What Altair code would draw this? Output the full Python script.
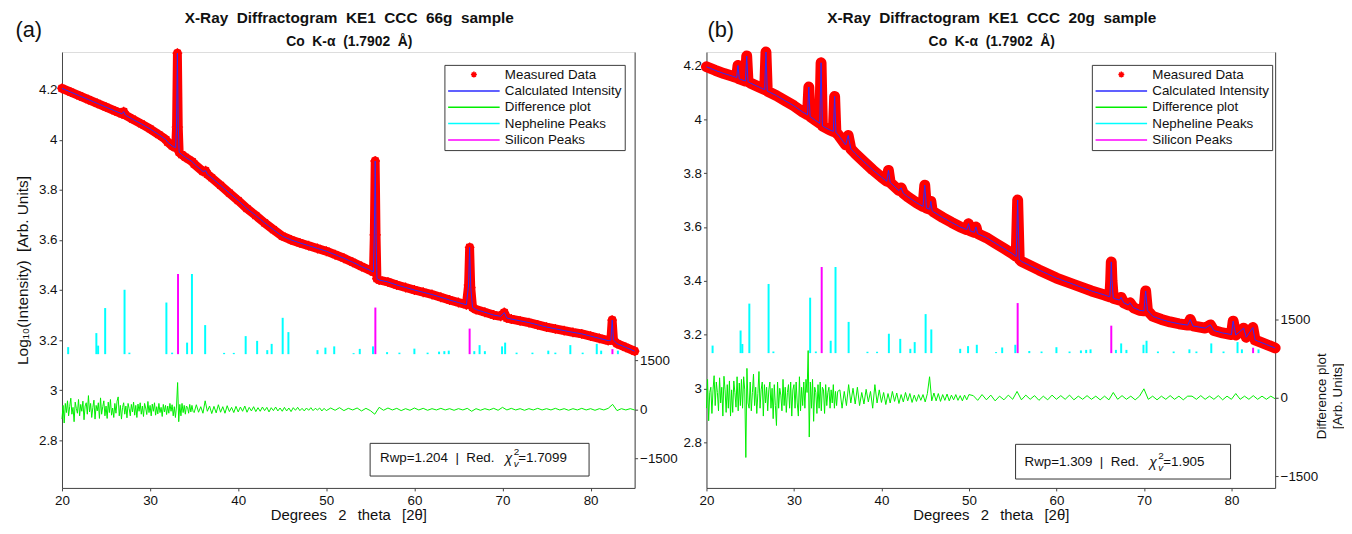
import altair as alt
import numpy as np
import pandas as pd

FONT = "Liberation Sans"
SERIES = ["Measured Data", "Calculated Intensity", "Difference plot", "Nepheline Peaks", "Silicon Peaks"]
COLORS = ["#ff0000", "#2b2bff", "#00ee00", "#00ffff", "#ff00ff"]
ASTERISK = "M-0.6,0H0.6M0,-0.62V0.62M-0.42,-0.42L0.42,0.42M-0.42,0.42L0.42,-0.42"
LEG_LINE = "M-5.2,0H5.2"
SHAPES = [ASTERISK, LEG_LINE, LEG_LINE, LEG_LINE, LEG_LINE]

# ---------------- panel (a): 66g sample, log10 intensity ----------------
A_X = [20.0, 21.0, 22.0, 23.0, 24.0, 25.0, 26.0, 26.8, 27.0, 27.2, 28.0, 29.0, 30.0, 31.0, 31.8, 32.0,
       32.5, 32.9, 33.0, 33.1, 33.2, 33.3, 33.6, 34.0, 34.8, 35.0, 36.0, 36.3, 36.5, 37.0, 38.0, 39.0,
       40.0, 41.0, 42.0, 43.0, 44.0, 45.0, 46.0, 47.0, 48.0, 49.0, 50.0, 51.0, 52.0, 53.0, 54.0, 55.0,
       55.35, 55.45, 55.55, 55.65, 55.75, 56.0, 57.0, 58.0, 59.0, 60.0, 61.0, 62.0, 63.0, 64.0, 65.0,
       65.9, 66.15, 66.27, 66.4, 66.6, 67.0, 68.0, 69.0, 69.8, 70.2, 70.5, 71.0, 72.0, 73.0, 74.0, 75.0,
       76.0, 77.0, 78.0, 79.0, 80.0, 81.0, 82.0, 82.3, 82.45, 82.6, 83.0, 84.0, 85.0]
A_Y = [4.205, 4.19, 4.175, 4.16, 4.145, 4.13, 4.115, 4.103, 4.112, 4.098, 4.082, 4.063, 4.043, 4.02, 4.0, 3.99,
       3.975, 3.968, 4.05, 4.345, 4.05, 3.95, 3.94, 3.93, 3.912, 3.903, 3.873, 3.876, 3.862, 3.848, 3.818, 3.787,
       3.757, 3.725, 3.697, 3.668, 3.641, 3.615, 3.6, 3.588, 3.577, 3.566, 3.555, 3.541, 3.527, 3.511, 3.494, 3.478,
       3.472, 3.62, 3.915, 3.62, 3.445, 3.44, 3.432, 3.42, 3.41, 3.4, 3.391, 3.382, 3.371, 3.36, 3.35,
       3.341, 3.42, 3.57, 3.41, 3.33, 3.322, 3.311, 3.3, 3.295, 3.31, 3.288, 3.284, 3.277, 3.27, 3.261, 3.252,
       3.245, 3.238, 3.231, 3.225, 3.216, 3.207, 3.198, 3.2, 3.28, 3.2, 3.186, 3.171, 3.156]

# ---------------- panel (b): 20g sample, log10 intensity ----------------
B_X = [20.0, 21.0, 22.0, 23.0, 23.45, 23.6, 23.75, 24.45, 24.6, 24.75, 25.0, 26.0, 26.65, 26.8, 26.95, 28.0,
       29.0, 30.0, 31.0, 31.55, 31.7, 31.85, 32.5, 32.95, 33.1, 33.25, 34.0, 34.5, 34.65, 34.8, 35.0, 35.9,
       36.2, 36.5, 37.0, 38.0, 39.0, 40.0, 40.6, 40.8, 41.0, 42.0, 42.25, 42.5, 43.0, 44.0, 44.75, 44.95,
       45.15, 45.5, 45.65, 45.8, 46.0, 47.0, 48.0, 49.0, 49.75, 49.95, 50.15, 50.6, 50.8, 51.0, 52.0, 53.0,
       54.0, 55.0, 55.4, 55.57, 55.75, 56.0, 57.0, 58.0, 59.0, 60.0, 62.0, 64.0, 65.5, 66.1, 66.2, 66.27,
       66.35, 66.5, 67.2, 67.4, 67.7, 68.2, 68.4, 68.8, 69.5, 70.0, 70.2, 70.4, 71.0, 72.0, 73.0, 74.0,
       75.0, 75.3, 75.6, 77.0, 77.6, 78.0, 79.0, 80.0, 80.2, 80.5, 81.4, 81.7, 82.45, 82.7, 83.0, 84.0, 85.0]
B_Y = [4.195, 4.182, 4.17, 4.16, 4.155, 4.2, 4.15, 4.142, 4.235, 4.14, 4.135, 4.12, 4.11, 4.25, 4.105, 4.088,
       4.069, 4.05, 4.027, 4.017, 4.12, 4.01, 3.995, 3.985, 4.21, 3.975, 3.962, 3.955, 4.085, 3.95, 3.945, 3.905,
       3.94, 3.89, 3.873, 3.842, 3.812, 3.785, 3.77, 3.81, 3.765, 3.735, 3.745, 3.725, 3.712, 3.69, 3.676, 3.755,
       3.67, 3.666, 3.695, 3.66, 3.655, 3.635, 3.617, 3.6, 3.59, 3.612, 3.585, 3.58, 3.6, 3.575, 3.56, 3.54,
       3.52, 3.5, 3.49, 3.7, 3.48, 3.472, 3.456, 3.44, 3.425, 3.41, 3.386, 3.362, 3.347, 3.34, 3.4, 3.47,
       3.4, 3.335, 3.328, 3.338, 3.318, 3.31, 3.318, 3.3, 3.29, 3.288, 3.362, 3.29, 3.268, 3.256, 3.247, 3.24,
       3.235, 3.256, 3.232, 3.224, 3.236, 3.215, 3.206, 3.2, 3.25, 3.198, 3.224, 3.19, 3.226, 3.18, 3.176, 3.163, 3.15]

# ---------------- reference peak sticks (height above stick base, log units) ----------------
NEPH_X = [20.7, 23.9, 24.1, 24.9, 27.1, 27.65, 31.85, 32.5, 34.2, 34.75, 36.25, 38.4, 39.5, 40.85, 42.15, 43.3,
          43.8, 45.05, 45.7, 49.0, 49.9, 50.9, 53.1, 53.8, 55.3, 56.9, 58.3, 60.0, 61.5, 62.8, 63.4, 63.9,
          66.8, 67.4, 68.0, 69.95, 70.3, 71.6, 73.4, 75.2, 76.0, 77.7, 79.1, 80.7, 81.2, 83.1]
NEPH_H = [0.028, 0.084, 0.034, 0.184, 0.257, 0.006, 0.206, 0.006, 0.046, 0.32, 0.116, 0.005, 0.005, 0.072, 0.053, 0.016,
          0.041, 0.145, 0.088, 0.016, 0.026, 0.031, 0.004, 0.021, 0.031, 0.008, 0.006, 0.022, 0.006, 0.01, 0.012, 0.014,
          0.012, 0.036, 0.012, 0.031, 0.046, 0.006, 0.006, 0.014, 0.006, 0.036, 0.006, 0.041, 0.014, 0.014]
SI_X = [33.17, 55.57, 66.27, 82.48]
SI_H = [0.32, 0.186, 0.102, 0.02]
A_STICK_BASE = 3.144
B_STICK_BASE = 3.131

# ---------------- difference plots (Arb. units) ----------------
# scan segments: 20-35 every 0.125, 35.25-50 every 0.25, 50.5-85 every 0.5
SCAN = [(20.0, 35.0, 0.125), (35.25, 50.0, 0.25), (50.5, 85.0, 0.5)]
DIFF_A = [
    -300, 120, -420, 180, -100, 260, -200, 90,
    340, -150, 60, -380, 220, 30, -120, 300,
    -200, 150, -60, 250, -320, 100, 200, -150,
    420, -80, 180, -250, 60, 280, -300, 120,
    -50, 200, -280, 350, -150, 80, 260, -200,
    100, -280, 220, -100, 300, -180, 40, -250,
    180, -120, 250, 380, -200, 120, -300, 60,
    200, -150, 100, -260, 180, 20, -200, 150,
    -80, 220, -180, 120, -250, 160, -60, 200,
    -150, 100, -220, 180, 40, -160, 240, -100,
    120, -200, 160, -60, 200, -180, 80, -140,
    180, -100, 60, -220, 150, -80, 120, -160,
    100, -120, 180, -60, 140, -200, 80, -250,
    100, 820, -380, 150, -200, 180, -100, 120,
    -150, 100, 60, -120, 150, -80, 120, -60,
    -100,
    140, -90, 80, -120, 260, -60, 100, -130, 90, -110, 140, -90, 80, -120, 110, -70,
    60, -100, 90, -80, 70, -60, 100, -90, 60, -50, 80, -70, 50, -60, 70, -40,
    60, -80, 50, -40, 70, -50, 40, -60, 60, -50, 40, -70, 50, -30, 60, -40,
    30, -50, 40, -30, 50, -40, 30, -20, 40, -50, 30, -40,
    40, -30, 50, -40, 30, -20, 40, -50, 30, -40,
    -150, 60, -30, 40, -20, 30, -40, 20, -30, 40,
    -20, 30, -30, 20, -20, 30, -20, 20, -30, 20,
    -20, 30, -60, 20, -30, 20, -20, 30, -30, 60,
    -20, 30, -20, 20, -30, 20, -20, 30, -20, 20,
    -20, 30, -20, 20, -30, 20, -20, 30, -20, 20,
    -30, 20, -20, 30, 150, -40, 20, -20, 20, -20]
DIFF_B = [
    -200, 350, -440, 100, 200, -300, 150, 420,
    -150, 300, 100, -250, 380, -100, 200, -350,
    410, 150, -280, 250, -200, 320, -350, 150,
    -280, 320, 100, -180, 400, -250, 280, -150,
    350, -200, 400, 150, -1140, 560, -100, -200,
    300, -250, 100, 450, -150, 200, -300, 80,
    500, -200, 150, 300, -350, 250, -100, 200,
    -250, 150, 300, -200, 180, -400, 250, -150,
    -530, 300, -200, 180, 50, -250, 350, -150,
    200, -280, 100, 250, -200, 300, -350, 150,
    250, -200, 300, -100, -350, 400, -250, 200,
    -150, 300, -200, 350, 100, 900, -750, 300,
    -200, 350, -450, 200, 100, -300, 250, -200,
    300, -250, 200, 150, -300, 250, -150, 100,
    200, -200, 150, -100, 250, -200, 120, -150,
    120,
    150, -200, 120, -150, 250, -100, 180, -120, 200, -150, 100, -120, 160, -80, 120, -200,
    250, -100, 150, -90, 100, -130, 80, -100, 120, -70, 90, -110, 60, -80, 100, -60,
    80, -90, 50, -70, 60, -50, 60, -80, 80, 400, -60, 90, -60, 80, -70, 60,
    -50, 70, -60, 50, -40, 60, -50, 40, -60, 50, -40, 60,
    40, -50, 60, -40, 50, -60, 30, -40, 50, -30,
    120, -40, 50, -30, 40, -50, 30, -40, 50, -30,
    40, -30, 50, -40, 30, -30, 40, -30, 30, -40,
    30, -40, 100, -30, 40, -30, 30, -40, 30, 170,
    -30, 30, -40, 30, -30, 40, -30, 30, -40, 30,
    30, -30, 40, -30, 30, -30, 40, -40, 30, -30,
    80, -30, 30, -30, 40, -30, 30, -30, 30, -20]

X_TICKS = [20, 30, 40, 50, 60, 70, 80]
Y_TICKS = [2.8, 3, 3.2, 3.4, 3.6, 3.8, 4, 4.2]
D_TICKS = [-1500, 0, 1500]

ONE = pd.DataFrame({"k": [0]})
PLOT_H = 440


def sp(s, gap="\u00a0\u00a0"):
    return s.replace("  ", gap)


def scan_grid():
    parts = [np.round(np.arange(a, b + 1e-9, s), 3) for a, b, s in SCAN]
    return np.concatenate(parts)


def text(txt, x, y, size, weight="normal", style="normal", align="left"):
    return alt.Chart(ONE).mark_text(
        text=txt, font=FONT, fontSize=size, fontWeight=weight, fontStyle=style,
        align=align, baseline="middle", color="#111111"
    ).encode(x=alt.value(x), y=alt.value(y))


def panel(c):
    cscale = alt.Scale(domain=SERIES, range=COLORS)
    sscale = alt.Scale(domain=SERIES, range=SHAPES)
    leg = alt.Legend(title=None, orient="none", legendX=c["leg_x"], legendY=13,
                     fillColor="white", strokeColor="#3a3a3a", padding=3, rowPadding=1.5,
                     symbolSize=100, symbolStrokeWidth=1.5, symbolOffset=20, labelOffset=24.5,
                     labelFont=FONT, labelFontSize=13.5, labelColor="#111111", labelLimit=300,
                     labelExpr="datum.label + '\u00a0\u00a0'")
    xs = alt.Scale(domain=[20, 85], nice=False, zero=False)
    ys = alt.Scale(domain=c["y_dom"], nice=False, zero=False)
    ds = alt.Scale(domain=c["d_dom"], nice=False, zero=False)
    common = dict(labelFont=FONT, labelFontSize=13.5, labelColor="#111111", tickSize=3, labelPadding=2,
                  tickColor="#444444", domainColor="#444444", grid=False, labelFlush=False,
                  labelOverlap=False, titleFont=FONT, titleFontWeight="normal", titleColor="#111111")
    xcommon = dict(common)
    xcommon["labelPadding"] = 2.5
    xaxis = alt.Axis(orient="bottom", values=X_TICKS, format="d",
                     title=sp("Degrees  2  theta  [2θ]", "\u00a0\u2009\u00a0"),
                     titleFontSize=15, titlePadding=1, **xcommon)
    if c["left_title"]:
        yaxis = alt.Axis(orient="left", values=Y_TICKS, format="~g",
                         title=sp("Log₁₀(Intensity)  [Arb. Units]"),
                         titleFontSize=15.5, titlePadding=8.5, **common)
    else:
        yaxis = alt.Axis(orient="left", values=Y_TICKS, format="~g", title=None, **common)
    if c["right_title"]:
        daxis = alt.Axis(orient="right", values=D_TICKS, format="d",
                         title=["Difference plot", "[Arb. Units]"], titleFontSize=13.5,
                         titleAngle=270, titleX=40, titleY=347, titleAlign="center",
                         titleBaseline="top", titleLineHeight=15.5, **common)
    else:
        daxis = alt.Axis(orient="right", values=D_TICKS, format="d", title=None, **common)

    X = alt.X("x:Q", scale=xs, axis=xaxis)
    Yn = alt.Y("y:Q", scale=ys, axis=None)
    C = alt.Color("series:N", scale=cscale, legend=leg)

    meas = pd.DataFrame({"x": c["cx"], "y": c["cy"], "series": "Measured Data"})
    calc = pd.DataFrame({"x": c["cx"], "y": c["cy"], "series": "Calculated Intensity"})
    sticks = pd.DataFrame({"x": NEPH_X + SI_X, "h": NEPH_H + SI_H,
                           "series": ["Nepheline Peaks"] * len(NEPH_X) + ["Silicon Peaks"] * len(SI_X)})
    sticks["base"] = c["base"]
    sticks["top"] = c["base"] + sticks["h"]
    grid = scan_grid()
    diff = pd.DataFrame({"x": grid, "d": c["diff"][:len(grid)], "series": "Difference plot"})

    band = alt.Chart(meas).mark_line(color="#ff0000", strokeWidth=c["band"], strokeJoin="round",
                                     strokeCap="round").encode(x=X, y=alt.Y("y:Q", scale=ys, axis=yaxis))
    pts = alt.Chart(meas).mark_point(filled=False, size=260, strokeWidth=1.3, opacity=1).encode(
        x=X, y=Yn, color=C, shape=alt.Shape("series:N", scale=sscale, legend=leg))
    calc_l = alt.Chart(calc).mark_line(strokeWidth=1).encode(x=X, y=Yn, color=C)
    stick_l = alt.Chart(sticks).mark_rule(strokeWidth=2).encode(
        x=X, y=alt.Y("base:Q", scale=ys, axis=None), y2="top:Q", color=C)
    diff_l = alt.Chart(diff).mark_line(strokeWidth=1).encode(
        x=X, y=alt.Y("d:Q", scale=ds, axis=daxis), color=C)

    bx = c["box"]
    box = alt.Chart(ONE).mark_rect(fill="white", stroke="#333333", strokeWidth=1).encode(
        x=alt.value(bx[0]), x2=alt.value(bx[1]), y=alt.value(bx[2]), y2=alt.value(bx[3]))
    ty = c["txt_y"]
    annot = [
        box,
        text(sp(c["rwp"]), c["txt_x"], ty, 13.5),
        text("χ", c["chi_x"], ty + 1, 14, style="italic"),
        text("2", c["sup_x"], ty - 6, 10),
        text("v", c["sup_x"], ty + 6, 10, style="italic"),
        text(c["chi_val"], c["eq_x"], ty, 13.5),
        text(c["tag"], c["tag_x"], -22, 22),
        text(sp(c["title"]), c["title_x"], -34.5, 15.5, weight="bold", align="center"),
        text(sp("Co  K-α  (1.7902  Å)"), c["title_x"], -10.5, 14, weight="bold", align="center"),
    ]
    return alt.layer(band, stick_l, pts, calc_l, diff_l, *annot).resolve_scale(
        y="independent").properties(width=c["width"], height=PLOT_H)


CFG_A = dict(tag="(a)", tag_x=-47, title="X-Ray  Diffractogram  KE1  CCC  66g  sample", title_x=290,
             cx=A_X, cy=A_Y, band=9, base=A_STICK_BASE, diff=DIFF_A,
             y_dom=[2.61, 4.35], d_dom=[-2408, 10943], width=578, leg_x=386,
             left_title=True, right_title=False, box=(311, 532, 395, 428), txt_y=410, txt_x=321,
             chi_x=447, sup_x=456, eq_x=460.5, rwp="Rwp=1.204  |  Red.", chi_val="=1.7099")
CFG_B = dict(tag="(b)", tag_x=1, title="X-Ray  Diffractogram  KE1  CCC  20g  sample", title_x=288,
             cx=B_X, cy=B_Y, band=11, base=B_STICK_BASE, diff=DIFF_B,
             y_dom=[2.63, 4.25], d_dom=[-1721, 6596], width=574, leg_x=389,
             left_title=False, right_title=True, box=(312, 529, 396, 431), txt_y=413.5, txt_x=321,
             chi_x=447, sup_x=456, eq_x=461, rwp="Rwp=1.309  |  Red.", chi_val="=1.905")

chart = alt.hconcat(panel(CFG_A), panel(CFG_B), spacing=3.5).resolve_scale(
    color="independent", shape="independent").resolve_legend(
    color="independent", shape="independent").properties(
    padding={"left": 6.5, "top": 0, "right": 0, "bottom": 0}).configure_view(
    stroke="transparent").configure(font=FONT)

chart.save("out.html", embed_options={"renderer": "svg", "actions": False})
